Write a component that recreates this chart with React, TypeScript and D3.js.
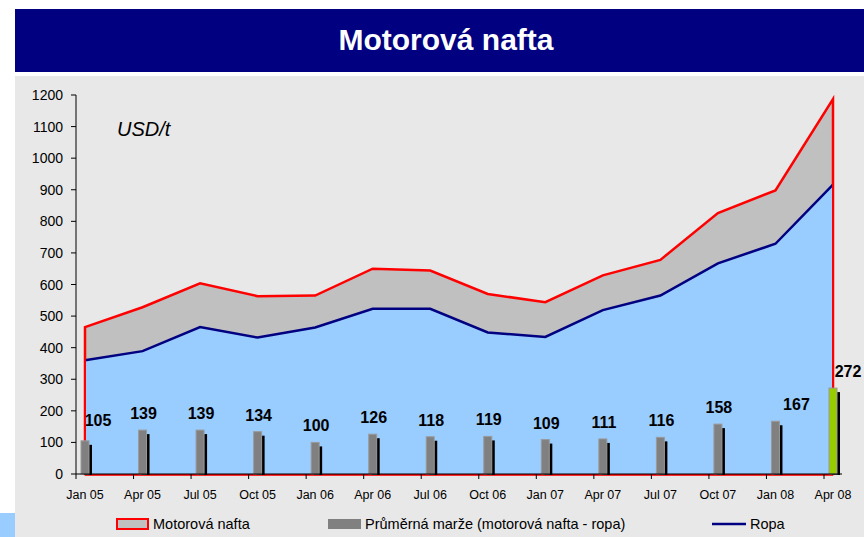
import React, { useRef, useEffect } from 'react';
import * as d3 from 'd3';

// quarterly values, USD/t
const months = ['Jan 05', 'Apr 05', 'Jul 05', 'Oct 05', 'Jan 06', 'Apr 06', 'Jul 06', 'Oct 06', 'Jan 07', 'Apr 07', 'Jul 07', 'Oct 07', 'Jan 08', 'Apr 08'];
const dieselPrice = [465, 528, 604, 563, 565, 650, 644, 570, 544, 629, 678, 826, 898, 1187];
const oilPrice = [360, 389, 465, 432, 464, 523, 523, 448, 434, 519, 565, 667, 729, 916];
const margin = [105, 139, 139, 134, 100, 126, 118, 119, 109, 111, 116, 158, 167, 272];
const yTicks = [0, 100, 200, 300, 400, 500, 600, 700, 800, 900, 1000, 1100, 1200];

const FONT = '"Liberation Sans", Arial, sans-serif';

function App() {
	const svgRef = useRef<SVGSVGElement>(null);

	useEffect(() => {
		const svg = d3.select(svgRef.current);
		svg.selectAll('*').remove();

		// background pieces
		svg.append('rect').attr('x', 0).attr('y', 513).attr('width', 15).attr('height', 24).attr('fill', '#99ccff');
		svg.append('rect').attr('x', 15).attr('y', 76).attr('width', 849).attr('height', 461).attr('fill', '#e8e8e8');
		svg.append('rect').attr('x', 15).attr('y', 9).attr('width', 849).attr('height', 63).attr('fill', '#000080');
		svg.append('text')
			.attr('x', 446).attr('y', 50)
			.attr('text-anchor', 'middle')
			.attr('fill', '#fff')
			.style('font', `bold 30px ${FONT}`)
			.text('Motorová nafta');

		const x = d3.scalePoint<string>().domain(months).range([85, 833]);
		const y = d3.scaleLinear().domain([0, 1200]).range([474, 95]);
		const tickOffset = -9;

		const data = months.map((m, i) => ({ m, diesel: dieselPrice[i], oil: oilPrice[i], margin: margin[i] }));

		// diesel area (grey) with red outline, closed on the baseline
		const dieselArea = d3.area<any>()
			.x((d) => x(d.m)!)
			.y0(y(0))
			.y1((d) => y(d.diesel));
		svg.append('path')
			.datum(data)
			.attr('d', dieselArea)
			.attr('fill', '#c0c0c0')
			.attr('stroke', '#ff0000')
			.attr('stroke-width', 2.5)
			.attr('stroke-linejoin', 'miter');

		// oil area (light blue)
		const oilArea = d3.area<any>()
			.x((d) => x(d.m)!)
			.y0(y(0))
			.y1((d) => y(d.oil));
		svg.append('path')
			.datum(data)
			.attr('d', oilArea)
			.attr('fill', '#99ccff');

		const oilLine = d3.line<any>()
			.x((d) => x(d.m)!)
			.y((d) => y(d.oil));
		svg.append('path')
			.datum(data)
			.attr('d', oilLine)
			.attr('fill', 'none')
			.attr('stroke', '#000080')
			.attr('stroke-width', 2.5);

		// red edges on top of blue fill
		const last = data[data.length - 1];
		svg.append('line')
			.attr('x1', x(last.m)!).attr('x2', x(last.m)!)
			.attr('y1', y(0)).attr('y2', y(last.diesel))
			.attr('stroke', '#ff0000').attr('stroke-width', 2);
		svg.append('line')
			.attr('x1', x(data[0].m)!).attr('x2', x(data[0].m)!)
			.attr('y1', y(0)).attr('y2', y(data[0].diesel))
			.attr('stroke', '#ff0000').attr('stroke-width', 2);
		svg.append('line')
			.attr('x1', x(data[0].m)!).attr('x2', x(last.m)!)
			.attr('y1', y(0) + 1).attr('y2', y(0) + 1)
			.attr('stroke', '#ff0000').attr('stroke-width', 1.5);

		// margin bars with a black shadow
		const barW = 8;
		const bars = svg.append('g');
		bars.selectAll('.shadow')
			.data(data)
			.join('rect')
			.attr('class', 'shadow')
			.attr('x', (d) => x(d.m)! - barW / 2 + 3)
			.attr('y', (d) => y(d.margin) + 4)
			.attr('width', barW)
			.attr('height', (d) => y(0) - y(d.margin) - 3)
			.attr('fill', '#000');
		bars.selectAll('.bar')
			.data(data)
			.join('rect')
			.attr('class', 'bar')
			.attr('x', (d) => x(d.m)! - barW / 2)
			.attr('y', (d) => y(d.margin))
			.attr('width', barW)
			.attr('height', (d) => y(0) - y(d.margin))
			.attr('fill', (d, i) => (i === data.length - 1 ? '#99cc00' : '#808080'))
			.attr('stroke', '#9a9a9a')
			.attr('stroke-width', 1);

		// value labels (a few are nudged right like in the original)
		const nudge = (i: number) => (i === 0 ? 12 : i === 12 ? 20 : i === 13 ? 14 : 0);
		svg.append('g')
			.selectAll('text')
			.data(data)
			.join('text')
			.attr('x', (d, i) => x(d.m)! + 1 + nudge(i))
			.attr('y', (d, i) => y(d.margin) - (i === 0 ? 15 : 11))
			.attr('text-anchor', 'middle')
			.style('font', `bold 16px ${FONT}`)
			.attr('fill', '#000')
			.text((d) => d.margin);

		// axes
		const yAxis = svg.append('g').attr('transform', 'translate(76,0)');
		yAxis.append('line').attr('x1', 0).attr('x2', 0).attr('y1', y(1200)).attr('y2', y(0)).attr('stroke', '#000');
		yAxis.selectAll('.tk')
			.data(yTicks)
			.join('line')
			.attr('x1', -5).attr('x2', 0)
			.attr('y1', (d) => y(d)).attr('y2', (d) => y(d))
			.attr('stroke', '#000');
		yAxis.selectAll('text')
			.data(yTicks)
			.join('text')
			.attr('x', -13)
			.attr('y', (d) => y(d) + 5)
			.attr('text-anchor', 'end')
			.style('font', `14px ${FONT}`)
			.text((d) => d);

		const xAxis = svg.append('g');
		xAxis.append('line').attr('x1', 76).attr('x2', 842).attr('y1', y(0)).attr('y2', y(0)).attr('stroke', '#000');
		xAxis.selectAll('.tk')
			.data(months)
			.join('line')
			.attr('x1', (d) => x(d)! + tickOffset).attr('x2', (d) => x(d)! + tickOffset)
			.attr('y1', y(0)).attr('y2', y(0) + 5)
			.attr('stroke', '#000');
		xAxis.selectAll('text')
			.data(months)
			.join('text')
			.attr('x', (d) => x(d)!)
			.attr('y', 499)
			.attr('text-anchor', 'middle')
			.style('font', `12.5px ${FONT}`)
			.text((d) => d);

		svg.append('text')
			.attr('x', 117).attr('y', 136)
			.style('font', `italic 20px ${FONT}`)
			.text('USD/t');

		// legend
		const lg = svg.append('g').style('font', `14.5px ${FONT}`);
		lg.append('rect').attr('x', 117).attr('y', 519).attr('width', 31).attr('height', 10)
			.attr('fill', '#c0c0c0').attr('stroke', '#ff0000').attr('stroke-width', 2);
		lg.append('text').attr('x', 153).attr('y', 529).text('Motorová nafta');
		lg.append('rect').attr('x', 328).attr('y', 519).attr('width', 33).attr('height', 10).attr('fill', '#808080');
		lg.append('text').attr('x', 365).attr('y', 529).text('Průměrná marže (motorová nafta - ropa)');
		lg.append('line').attr('x1', 712).attr('x2', 746).attr('y1', 524).attr('y2', 524)
			.attr('stroke', '#000080').attr('stroke-width', 2.5);
		lg.append('text').attr('x', 750).attr('y', 529).text('Ropa');
	}, []);

	return (
		<div style={{ position: 'absolute', left: 0, top: 0 }}>
			<svg ref={svgRef} width={864} height={537} style={{ display: 'block', background: '#fff' }} />
		</div>
	);
}

export default App;
